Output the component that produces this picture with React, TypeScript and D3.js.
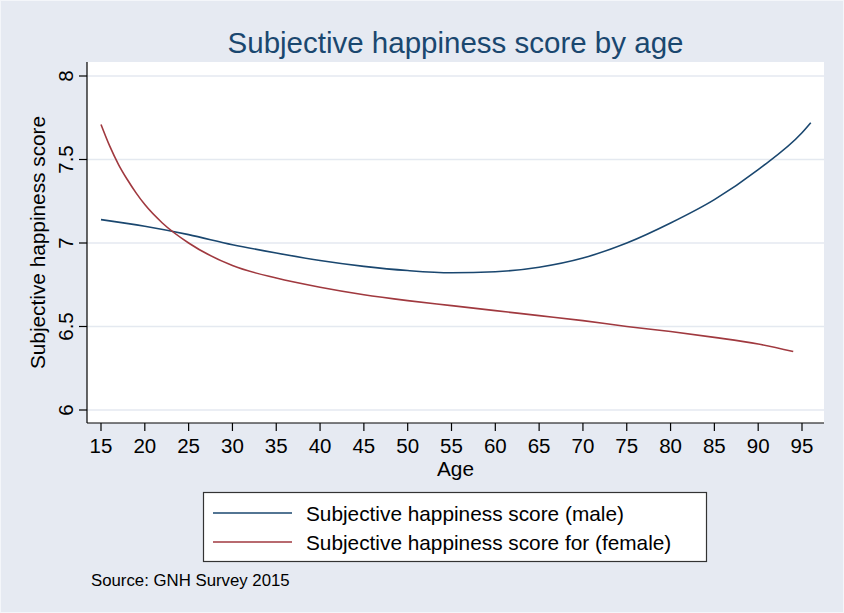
import React from 'react';
import * as d3 from 'd3';

// ages and fitted scores
const maleAges = [15, 20, 25, 30, 35, 40, 45, 50, 55, 60, 65, 70, 75, 80, 85, 90, 95, 96];
const maleScores = [7.14, 7.10, 7.05, 6.99, 6.94, 6.895, 6.86, 6.835, 6.822, 6.828, 6.855, 6.91, 7.0, 7.12, 7.26, 7.44, 7.66, 7.72];

const femaleAges = [15, 16, 17, 18, 19, 20, 22, 25, 30, 35, 40, 45, 50, 55, 60, 65, 70, 75, 80, 85, 90, 94];
const femaleScores = [7.71, 7.58, 7.47, 7.38, 7.30, 7.23, 7.12, 7.0, 6.865, 6.79, 6.735, 6.69, 6.655, 6.625, 6.595, 6.565, 6.535, 6.50, 6.47, 6.435, 6.395, 6.35];

const xTicks = [15, 20, 25, 30, 35, 40, 45, 50, 55, 60, 65, 70, 75, 80, 85, 90, 95];
const yTicks = [6, 6.5, 7, 7.5, 8];
const seriesNames = ['Subjective happiness score (male)', 'Subjective happiness score for (female)'];

const W = 844;
const H = 613;
const FONT = '"Liberation Sans", Arial, Helvetica, sans-serif';
const BG = '#e6eaf2';
const MALE = '#1a476f';
const FEMALE = '#a0393f';

const App: React.FC = () => {
  const plot = { left: 87, right: 824, top: 62, bottom: 423 };

  const x = d3.scaleLinear().domain([15, 95]).range([101, 802]);
  const y = d3.scaleLinear().domain([6, 8]).range([410, 76]);

  const line = d3.line<[number, number]>()
    .x(d => x(d[0]))
    .y(d => y(d[1]))
    .curve(d3.curveMonotoneX);

  const male = line(maleAges.map((a, i) => [a, maleScores[i]] as [number, number])) || '';
  const female = line(femaleAges.map((a, i) => [a, femaleScores[i]] as [number, number])) || '';

  const midX = (plot.left + plot.right) / 2;
  const midY = (plot.top + plot.bottom) / 2;

  return (
    <svg width={W} height={H} style={{ position: 'absolute', left: 0, top: 0 }} fontFamily={FONT}>
      <rect x={0} y={0} width={W} height={H} fill={BG} />
      <rect x={0.5} y={0.5} width={W - 1} height={H - 1} fill="none" stroke="#f4f6fa" />

      <text x={midX} y={53} textAnchor="middle" fontSize={29.5} fill={MALE}>
        Subjective happiness score by age
      </text>

      {/* plot region */}
      <rect x={plot.left} y={plot.top} width={plot.right - plot.left} height={plot.bottom - plot.top} fill="#fff" />
      {yTicks.map(t => (
        <line key={'g' + t} x1={plot.left} x2={plot.right} y1={y(t)} y2={y(t)} stroke="#e4e9f0" strokeWidth={1.5} />
      ))}

      <path d={male} fill="none" stroke={MALE} strokeWidth={1.6} />
      <path d={female} fill="none" stroke={FEMALE} strokeWidth={1.6} />

      {/* y axis */}
      <line x1={plot.left} x2={plot.left} y1={plot.top} y2={plot.bottom} stroke="#000" strokeWidth={1.2} />
      {yTicks.map(t => (
        <g key={'y' + t}>
          <line x1={plot.left - 8} x2={plot.left} y1={y(t)} y2={y(t)} stroke="#000" strokeWidth={1.2} />
          <text
            transform={`translate(${plot.left - 14},${y(t)}) rotate(-90)`}
            textAnchor="middle"
            fontSize={20.5}
            fill="#000"
          >
            {String(t)}
          </text>
        </g>
      ))}
      <text transform={`translate(45,${midY}) rotate(-90)`} textAnchor="middle" fontSize={20.8} fill="#000">
        Subjective happiness score
      </text>

      {/* x axis */}
      <line x1={plot.left} x2={plot.right} y1={plot.bottom} y2={plot.bottom} stroke="#000" strokeWidth={1.2} />
      {xTicks.map(t => (
        <g key={'x' + t}>
          <line x1={x(t)} x2={x(t)} y1={plot.bottom} y2={plot.bottom + 8} stroke="#000" strokeWidth={1.2} />
          <text x={x(t)} y={453} textAnchor="middle" fontSize={20.5} fill="#000">{t}</text>
        </g>
      ))}
      <text x={midX} y={476} textAnchor="middle" fontSize={20.8} fill="#000">Age</text>

      {/* legend */}
      <rect x={203.5} y={492.5} width={503} height={69} fill="#fff" stroke="#333" strokeWidth={1.2} />
      {seriesNames.map((name, i) => (
        <g key={name}>
          <line x1={213} x2={292} y1={513 + i * 29} y2={513 + i * 29} stroke={i === 0 ? MALE : FEMALE} strokeWidth={1.6} />
          <text x={306} y={521 + i * 29} fontSize={20.8} fill="#000">{name}</text>
        </g>
      ))}

      <text x={91} y={586} fontSize={16.8} fill="#000">Source: GNH Survey 2015</text>
    </svg>
  );
};

export default App;
